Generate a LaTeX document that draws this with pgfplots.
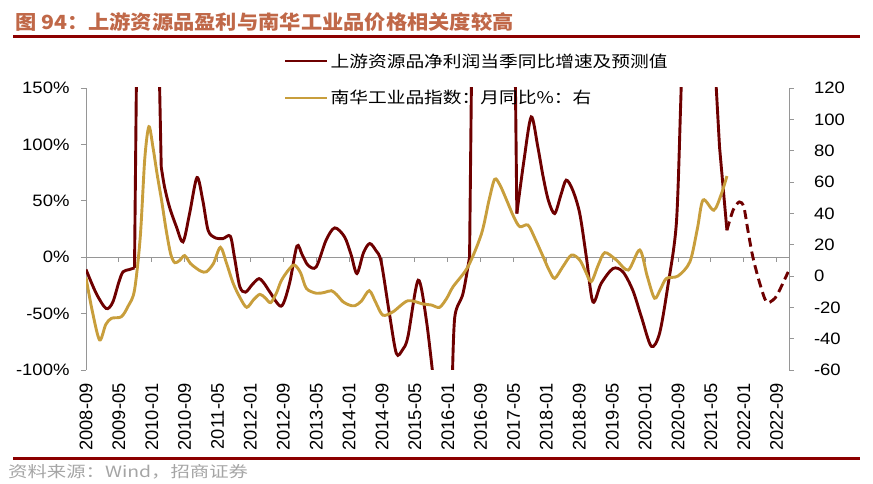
\documentclass[border=0pt]{standalone}
\usepackage{fontspec}
\usepackage{pgfplots}
\pgfplotsset{compat=1.18}
\setmainfont{Liberation Sans}
\newfontfamily\numfont[FakeStretch=1.12]{Liberation Sans}
\newfontfamily\cjktitle[FakeStretch=1.09]{Noto Sans CJK SC}
\newfontfamily\cjkleg[FakeStretch=1.17]{Noto Sans CJK SC}
\newfontfamily\cjkfoot[FakeStretch=1.25]{Noto Sans CJK SC}
\definecolor{brownc}{RGB}{110,0,0}
\definecolor{goldc}{RGB}{200,158,60}
\definecolor{axgray}{RGB}{150,150,150}
\definecolor{framec}{RGB}{140,0,0}
\definecolor{titlec}{RGB}{192,104,72}
\definecolor{footc}{RGB}{165,165,165}
\begin{document}
\begin{tikzpicture}[x=1pt,y=1pt]
\path[use as bounding box] (0,0) rectangle (873,484);
% title, frame lines, footer
\node[anchor=west, inner sep=0pt, text=titlec, font={\cjktitle\bfseries\fontsize{19.5}{19.5}\selectfont}] at (15,462) {图 94：上游资源品盈利与南华工业品价格相关度较高};
\draw[framec, line width=3.3pt] (13,447.3) -- (860,447.3);
\draw[framec, line width=3.3pt] (13,25.7) -- (860,25.7);
\node[anchor=west, inner sep=0pt, text=footc, font={\cjkfoot\fontsize{15.5}{15.5}\selectfont}] at (8,12.5) {资料来源：Wind，招商证券};

% ---------- left axis: profit growth ----------
\begin{axis}[
  at={(86pt,114pt)}, anchor=south west,
  scale only axis, width=703pt, height=282pt,
  xmin=0, xmax=171, ymin=-100, ymax=150,
  axis y line*=left, axis x line*=bottom,
  x axis line style={draw=none},
  y axis line style={draw=axgray, line width=0.9pt},
  xtick={0,8,...,168},
  xticklabels={2008-09,2009-05,2010-01,2010-09,2011-05,2012-01,2012-09,2013-05,2014-01,2014-09,2015-05,2016-01,2016-09,2017-05,2018-01,2018-09,2019-05,2020-01,2020-09,2021-05,2022-01,2022-09},
  xtick style={draw=none},
  xtick pos=bottom, ytick pos=left,
  ytick={-100,-50,0,50,100,150},
  yticklabels={-100\%,-50\%,0\%,50\%,100\%,150\%},
  ytick style={draw=axgray, line width=0.9pt},
  tick align=outside, major tick length=5pt,
  yticklabel style={font=\numfont\fontsize{16.5}{16.5}\selectfont},
  yticklabel shift=8pt,
  xticklabel style={rotate=90, anchor=east, font=\fontsize{18.3}{18.3}\selectfont},
  xticklabel shift=5pt,
  clip=true,
]
\draw[axgray, line width=0.9pt] (axis cs:0,0) -- (axis cs:171,0);
\pgfplotsinvokeforeach{8,16,24,32,40,48,56,64,72,80,88,96,104,112,120,128,136,144,152,160,168}{
  \draw[axgray, line width=0.9pt] (axis cs:#1,0) -- ++(0pt,-5pt);
}
\addplot[brownc, line width=2.9pt, smooth, tension=0.5, forget plot] coordinates {
(0,-10.9) (2.5,-32.2) (4.9,-45.5) (6.5,-40) (8,-22) (9,-13) (10.5,-11) (11.8,-9.5)};
\addplot[brownc, line width=2.9pt, sharp plot, forget plot] coordinates {
(11.8,-9.5) (12.3,170)};
\addplot[brownc, line width=2.9pt, sharp plot, forget plot] coordinates {
(17.8,170) (18.3,80)};
\addplot[brownc, line width=2.9pt, smooth, tension=0.5, forget plot] coordinates {
(18.3,80) (19.1,62.4) (20.3,44.6) (22,26.9) (23.6,13.6) (25.2,38.7) (27,70.6) (28.4,50.5) (29.7,23.9) (31.3,17.4) (33.3,16.5) (35.1,18.6) (36.1,0.3) (37.4,-26) (38.8,-31) (40.5,-24) (42.1,-19) (43.5,-24) (44.7,-30.7) (47.5,-43.4) (49.5,-23.3) (51.3,9.8) (52.6,2) (54,-7.1) (56,-8.6) (58.4,15.1) (60.5,26) (62.9,18) (64.5,2) (65.9,-14.5) (67.5,4) (69,12.1) (70.5,6) (71.8,-4.1) (73.8,-50) (75.5,-85.4) (77,-82) (78.3,-70.6) (80.8,-20.4) (82.8,-56) (84.6,-112)};
\addplot[brownc, line width=2.9pt, smooth, tension=0.5, forget plot] coordinates {
(89.1,-112) (89.7,-53) (91.7,-32.2) (93.3,0.3)};
\addplot[brownc, line width=2.9pt, sharp plot, forget plot] coordinates {
(93.3,0.3) (93.8,170)};
\addplot[brownc, line width=2.9pt, sharp plot, forget plot] coordinates {
(104.4,170) (104.8,38.7)};
\addplot[brownc, line width=2.9pt, smooth, tension=0.5, forget plot] coordinates {
(104.8,38.7) (106.5,85) (108.3,124.4) (109.9,97.8) (111.2,71.2) (112.5,50) (114,38.7) (115.5,55) (116.8,68.3) (118.4,59.4) (120.1,38.7) (121.7,0.3) (123.3,-39.6) (125.3,-23.3) (128.2,-10) (130.6,-13) (133,-29.3) (135.1,-53) (137.5,-79) (139.5,-67.7) (141.5,-26.3) (143.6,29.9) (144.6,130) (144.9,170)};
\addplot[brownc, line width=2.9pt, sharp plot, forget plot] coordinates {
(153.0,170) (154.1,97.8) (155.9,23.9)};
\addplot[brownc, line width=2.9pt, smooth, tension=0.5, dash pattern=on 9pt off 5pt, forget plot] coordinates {
(155.9,23.9) (157.4,41.7) (158.9,49) (160,44.6) (161,23.9) (162.2,0.3) (163.9,-23.3) (165.5,-39.6) (167.1,-38) (168.3,-32.2) (170.8,-13)};
\end{axis}

% ---------- right axis: Nanhua index ----------
\begin{axis}[
  at={(86pt,114pt)}, anchor=south west,
  scale only axis, width=703pt, height=282pt,
  xmin=0, xmax=171, ymin=-60, ymax=120,
  axis x line=none, axis y line*=right, ytick pos=right,
  y axis line style={draw=axgray, line width=0.9pt},
  ytick={-60,-40,...,120},
  yticklabels={-60,-40,-20,0,20,40,60,80,100,120},
  ytick style={draw=axgray, line width=0.9pt},
  tick align=outside, major tick length=4.5pt,
  yticklabel style={font=\numfont\fontsize{16.5}{16.5}\selectfont, xshift=4pt},
  yticklabel shift=13pt,
  clip=true,
  legend style={at={(0.281,1.13)}, anchor=north west, draw=none, fill=none, inner sep=0pt,
    row sep=18pt, font={\cjkleg\fontsize{16}{16}\selectfont}},
  legend cell align=left,
  legend image code/.code={\draw[#1] (0pt,0pt) -- (42pt,0pt);},
]
\addlegendimage{brownc, line width=2.9pt}
\addlegendentry{上游资源品净利润当季同比增速及预测值}
\addplot[goldc, line width=2.9pt, smooth, tension=0.5] coordinates {
(0,-1) (1.5,-22) (3.3,-40.8) (4.8,-31) (6.2,-27) (8.6,-26) (10.3,-19) (11.8,-9) (13.2,25) (14.3,75) (15.3,95.3) (16.3,82) (17.3,65) (18.4,48) (19.5,29.3) (20.6,14) (21.6,8.5) (22.8,10) (24,13) (25.4,8) (26.8,5) (28,3) (29.3,2.7) (31,8) (32.7,18.3) (34.2,8) (35.8,-4.7) (37.5,-14) (39.1,-20) (40.8,-15) (42.3,-11.7) (43.6,-14) (44.9,-17) (46.3,-11) (47.5,-3) (49.3,4) (50.7,7) (52.2,2) (53.6,-7.9) (56,-11) (58,-10.5) (59.7,-9.4) (61,-12) (62.5,-16.4) (64,-18.5) (65.4,-19) (67,-16) (68.9,-9.4) (70.5,-17) (72.2,-25) (74.7,-22.8) (78.3,-15.8) (82,-17.9) (84,-18.5) (86,-20) (87.8,-14) (89.3,-6.8) (92.9,5.9) (96.2,27) (98,48) (99.4,61.7) (100.7,58) (102.3,48.5) (104,38) (105.5,31.5) (107.5,32.5) (109.2,24) (111.2,12.3) (112.6,4) (114,-1.5) (116,6) (118.1,13.4) (120.1,10.2) (121.5,3) (122.9,-3.6) (124.6,7) (126.2,14.9) (129,10.2) (131.9,3.8) (134.7,16.6) (136.5,0) (138.3,-14.2) (139.8,-8) (141.2,-1.5) (144,0) (146.9,9.1) (148.7,30) (150.1,48.5) (152.7,42) (154.5,52) (155.9,63.8)};
\addlegendentry{南华工业品指数：月同比\%：右}
\end{axis}
\end{tikzpicture}
\end{document}
